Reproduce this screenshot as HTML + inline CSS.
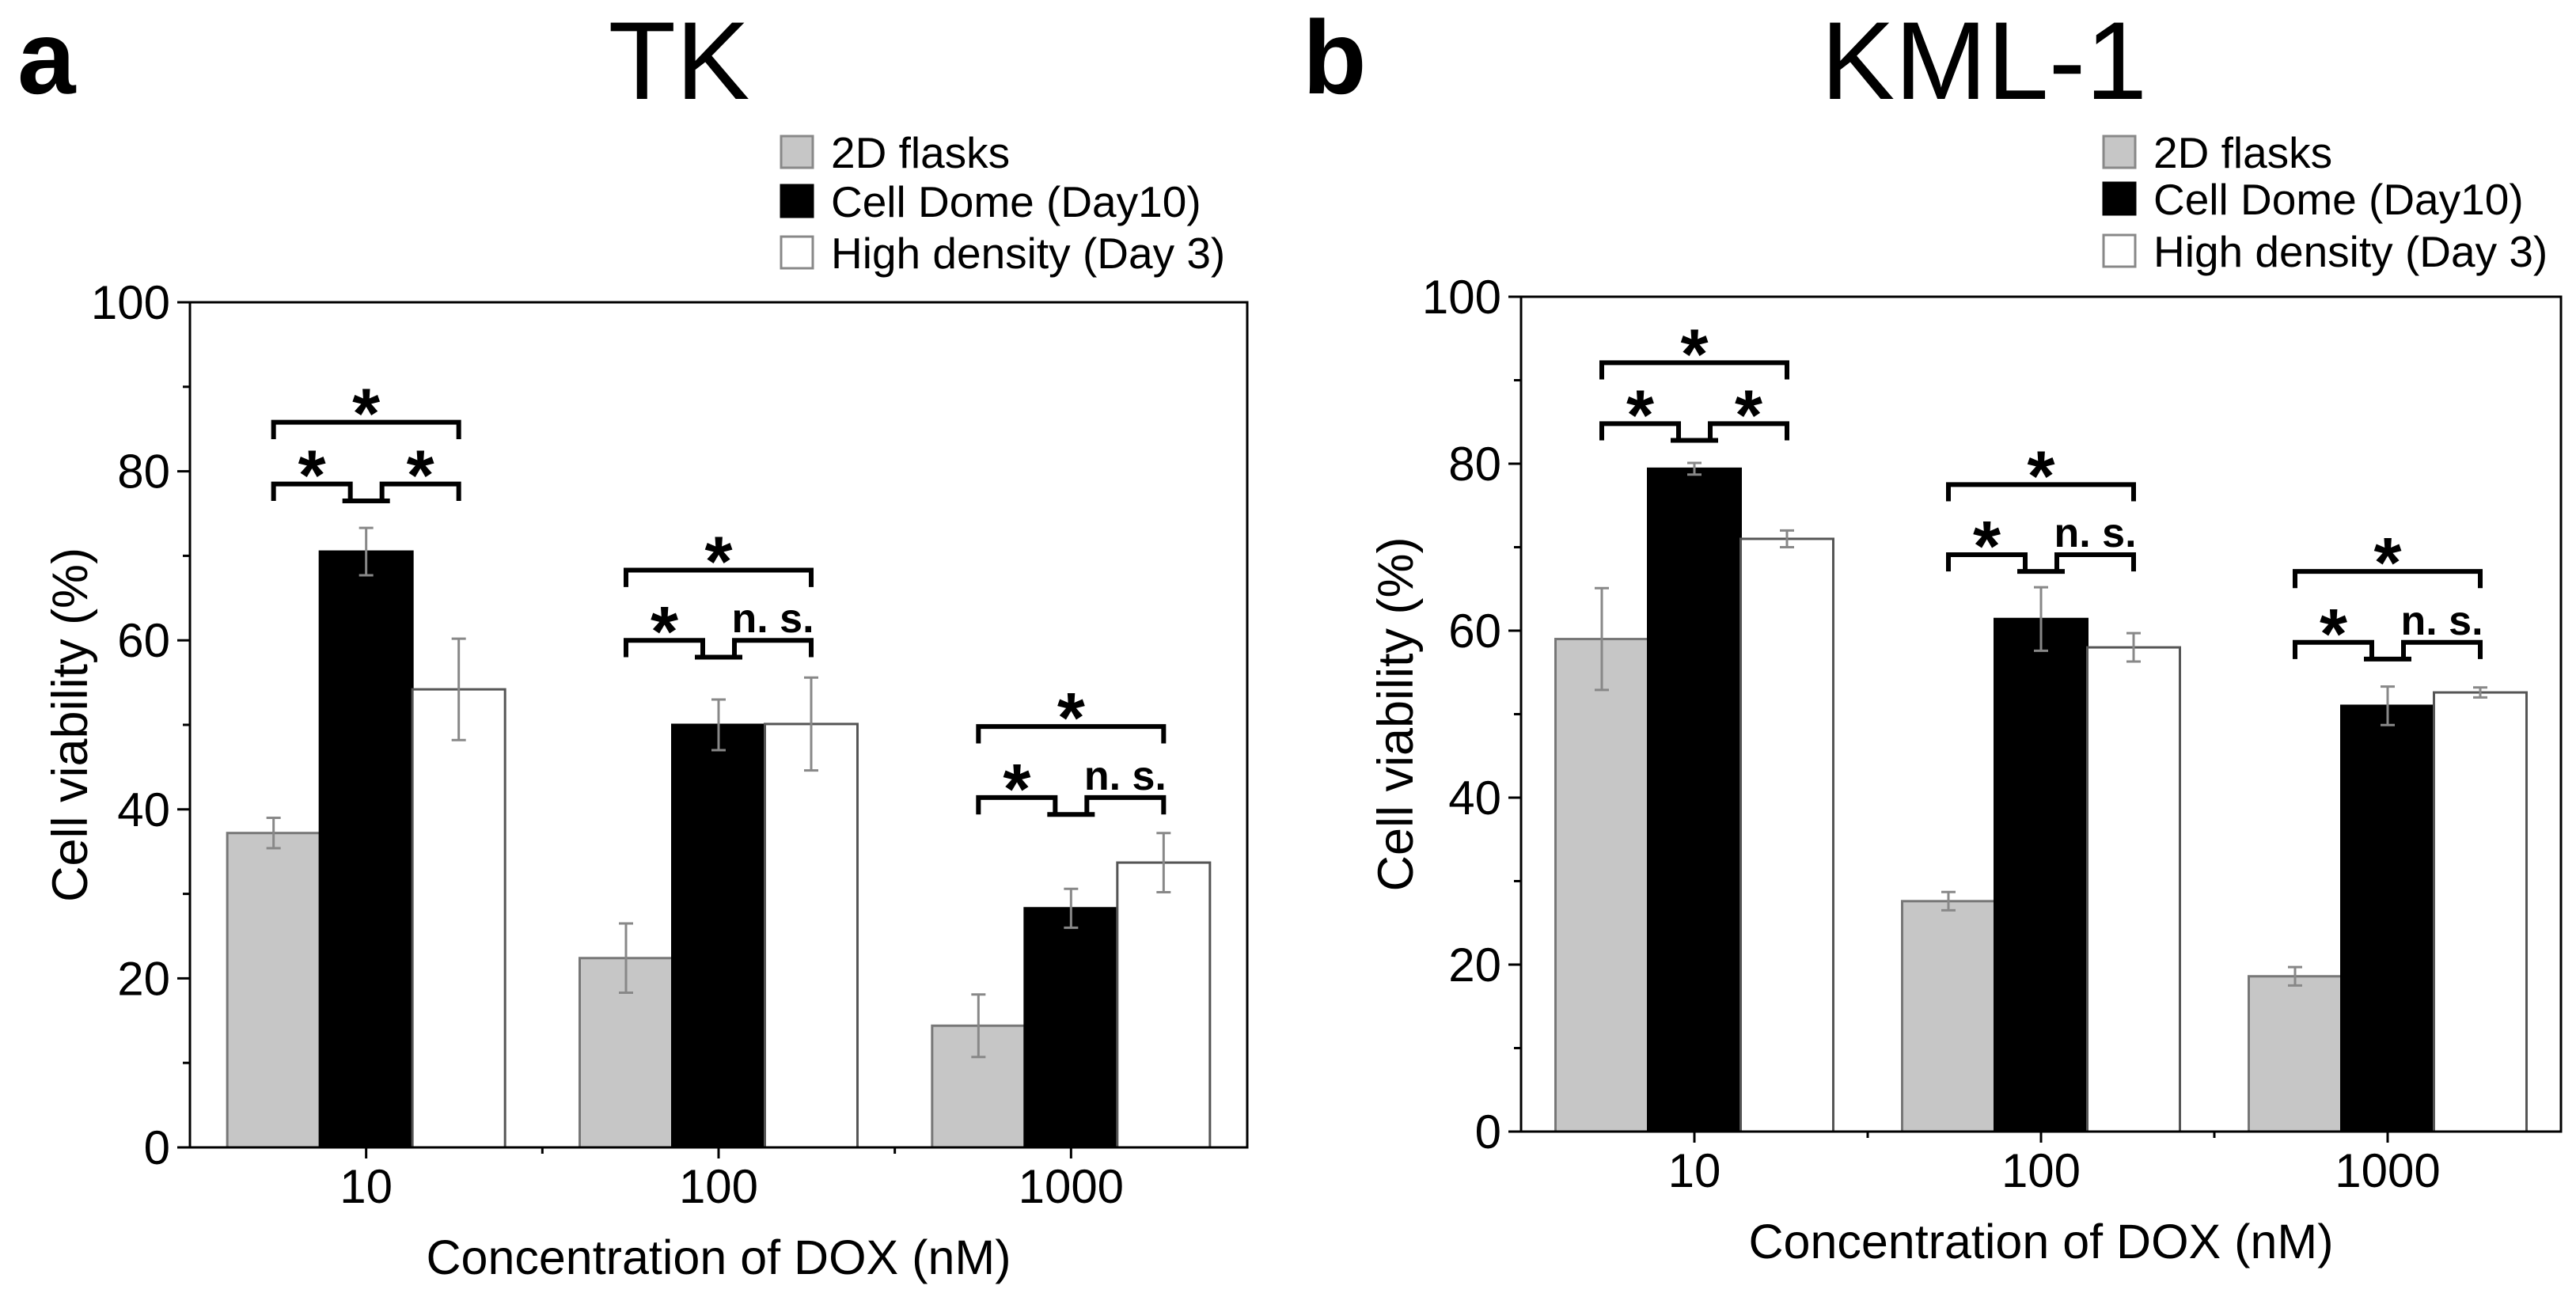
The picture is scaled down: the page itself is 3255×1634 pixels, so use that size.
<!DOCTYPE html>
<html><head><meta charset="utf-8"><style>
html,body{margin:0;padding:0;background:#fff;}
svg{display:block;font-family:"Liberation Sans",Arial,sans-serif;}
</style></head><body>
<svg id="fig" width="3255" height="1634" viewBox="0 0 3255 1634" xmlns="http://www.w3.org/2000/svg"></svg>
<script>
const categories = ["10", "100", "1000"];
const seriesNames = ["2D flasks", "Cell Dome (Day10)", "High density (Day 3)"];
const yTicks = [0, 20, 40, 60, 80, 100];
const tkFlask = [37.2, 22.4, 14.4];
const tkDome = [70.5, 50.0, 28.3];
const tkHigh = [54.2, 50.1, 33.7];
const tkFlaskErr = [1.8, 4.1, 3.7];
const tkDomeErr = [2.8, 3.0, 2.3];
const tkHighErr = [6.0, 5.5, 3.5];
const tkTopBracket = [85.8, 68.3, 49.8];
const tkLowBracket = [78.5, 60.0, 41.4];
const tkRightLabel = ["*", "n. s.", "n. s."];
const kmlFlask = [59.0, 27.6, 18.6];
const kmlDome = [79.4, 61.4, 51.0];
const kmlHigh = [71.0, 58.0, 52.6];
const kmlFlaskErr = [6.1, 1.1, 1.1];
const kmlDomeErr = [0.7, 3.8, 2.3];
const kmlHighErr = [1.0, 1.7, 0.6];
const kmlTopBracket = [92.1, 77.5, 67.1];
const kmlLowBracket = [84.8, 69.1, 58.6];
const kmlRightLabel = ["*", "n. s.", "n. s."];

const NS = "http://www.w3.org/2000/svg";
const svg = document.getElementById("fig");
function mk(tag, attrs, parent, text){
  const e = document.createElementNS(NS, tag);
  for (const k in attrs) e.setAttribute(k, attrs[k]);
  if (text !== undefined) e.textContent = text;
  (parent || svg).appendChild(e);
  return e;
}
const fills = ["#c6c6c6", "#000000", "#ffffff"];
const strokes = ["#777", "#000", "#555"];

function panel(p){
  const g = mk("g", {});
  
  
  const L = p.left, R = p.right, T = p.top, B = p.bottom;
  const y = v => B - (v / 100) * (B - T);
  const nc = categories.length;
  const cw = (R - L) / nc;
  const cx = i => L + cw * (i + 0.5);
  const bw = 117;
  const bx = (i, s) => cx(i) + (s - 1) * bw - bw / 2;

  const letter = mk("text", {x: p.letterX, y: 118, "font-size": 132, "font-weight": "bold"}, g, p.letter);
  
  
  const title = mk("text", {x: p.titleX, y: 125, "font-size": 140, "text-anchor": "middle"}, g, p.title);
  
  

  for (let s = 0; s < 3; s++){
    const ly = p.legendY[s];
    const sw = mk("rect", {x: p.legendX, y: ly - 20, width: 40, height: 40, fill: fills[s], stroke: s === 1 ? "#000" : "#888", "stroke-width": 3}, g);
    
    
    const lt = mk("text", {x: p.legendX + 63, y: ly + 20, "font-size": 55}, g, seriesNames[s]);
    
    
  }

  const vals = [p.flask, p.dome, p.high];
  const errs = [p.flaskErr, p.domeErr, p.highErr];
  for (let i = 0; i < nc; i++){
    for (let s = 0; s < 3; s++){
      const v = vals[s][i];
      const r = mk("rect", {x: bx(i, s), y: y(v), width: bw, height: y(0) - y(v), fill: fills[s], stroke: strokes[s], "stroke-width": 3}, g);
      
      
    }
    for (let s = 0; s < 3; s++){
      const v = vals[s][i], e = errs[s][i], c = cx(i) + (s - 1) * bw;
      const eb = mk("path", {d: `M${c},${y(v+e)}V${y(v-e)}M${c-9},${y(v+e)}h18M${c-9},${y(v-e)}h18`, stroke: "#888", "stroke-width": 3, fill: "none"}, g);
      
      
    }
    const xl = cx(i) - bw, xr = cx(i) + bw, xm = cx(i);
    const yt = y(p.topB[i]), yl = y(p.lowB[i]), d = 2.0 * (B - T) / 100;
    const tb = mk("path", {d: `M${xl},${yt+d}V${yt}H${xr}V${yt+d}`, stroke: "#000", "stroke-width": 6, fill: "none"}, g);
    
    
    const lb = mk("path", {d: `M${xl},${yl+d}V${yl}H${xm-20}V${yl+d}M${xm-30},${yl+d}H${xm+30}M${xm+20},${yl+d}V${yl}H${xr}V${yl+d}`, stroke: "#000", "stroke-width": 6, fill: "none"}, g);
    
    
    const st = mk("text", {x: xm, y: yt + 20, "font-size": 90, "font-weight": "bold", "text-anchor": "middle"}, g, "*");
    
    
    const s1 = mk("text", {x: (xl + xm) / 2 - 10, y: yl + 20, "font-size": 90, "font-weight": "bold", "text-anchor": "middle"}, g, "*");
    
    
    const isNs = p.rightLabel[i] !== "*";
    const s2 = mk("text", {x: (xm + xr) / 2 + 10, y: isNs ? yl - 10 : yl + 20, "font-size": isNs ? 52 : 90, "font-weight": "bold", "text-anchor": "middle"}, g, p.rightLabel[i]);
    
    
  }

  const fr = mk("rect", {x: L, y: T, width: R - L, height: B - T, fill: "none", stroke: "#000", "stroke-width": 3}, g);
  
  
  for (let k = 0; k < yTicks.length; k++){
    const v = yTicks[k];
    const tk = mk("line", {x1: L - 16, x2: L, y1: y(v), y2: y(v), stroke: "#000", "stroke-width": 3}, g);
    
    
    const tl = mk("text", {x: L - 25, y: y(v) + 21, "font-size": 60, "text-anchor": "end"}, g, String(v));
    
    
    if (k < yTicks.length - 1){
      const mv = (v + yTicks[k+1]) / 2;
      const mt = mk("line", {x1: L - 9, x2: L, y1: y(mv), y2: y(mv), stroke: "#000", "stroke-width": 3}, g);
      
      
    }
  }
  for (let i = 0; i < nc; i++){
    const xt = mk("line", {x1: cx(i), x2: cx(i), y1: B, y2: B + 14, stroke: "#000", "stroke-width": 3}, g);
    
    
    const xl2 = mk("text", {x: cx(i), y: B + 70, "font-size": 60, "text-anchor": "middle"}, g, categories[i]);
    
    
    if (i > 0){
      const mt = mk("line", {x1: L + cw * i, x2: L + cw * i, y1: B, y2: B + 8, stroke: "#000", "stroke-width": 3}, g);
      
      
    }
  }
  const xa = mk("text", {x: (L + R) / 2, y: B + 160, "font-size": 61, "text-anchor": "middle"}, g, "Concentration of DOX (nM)");
  
  
  const yax = p.yTitleX, yay = (T + B) / 2;
  const ya = mk("text", {x: yax, y: yay, "font-size": 63, "text-anchor": "middle", transform: `rotate(-90 ${yax} ${yay})`}, g, "Cell viability (%)");
  
  
}

panel({name: "panel-tk", letter: "a", letterX: 22, title: "TK", titleX: 858,
  left: 240, right: 1576, top: 382, bottom: 1450, yTitleX: 110,
  legendX: 987, legendY: [192, 254, 319],
  flask: tkFlask, dome: tkDome, high: tkHigh, flaskErr: tkFlaskErr, domeErr: tkDomeErr, highErr: tkHighErr,
  topB: tkTopBracket, lowB: tkLowBracket, rightLabel: tkRightLabel});
panel({name: "panel-kml1", letter: "b", letterX: 1646, title: "KML-1", titleX: 2507,
  left: 1922, right: 3236, top: 375, bottom: 1430, yTitleX: 1785,
  legendX: 2658, legendY: [192, 251, 317],
  flask: kmlFlask, dome: kmlDome, high: kmlHigh, flaskErr: kmlFlaskErr, domeErr: kmlDomeErr, highErr: kmlHighErr,
  topB: kmlTopBracket, lowB: kmlLowBracket, rightLabel: kmlRightLabel});
</script>
</body></html>
